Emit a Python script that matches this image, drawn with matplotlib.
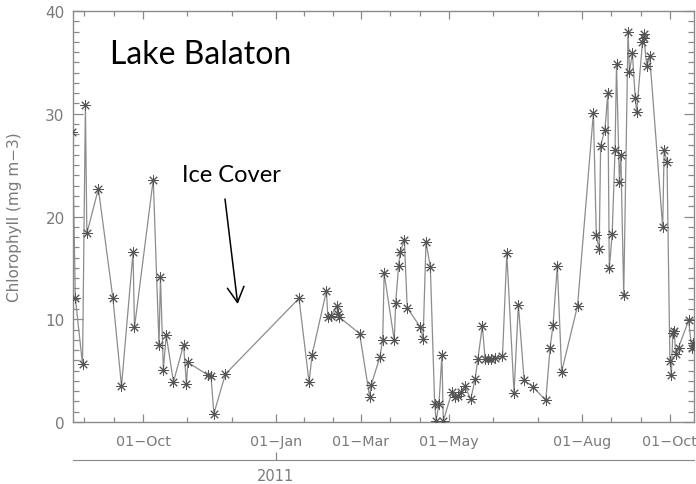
import matplotlib
matplotlib.use('Agg')
import matplotlib.pyplot as plt
import matplotlib.dates as mdates
import numpy as np

# ---- data ----
dates = ['2010-08-13', '2010-08-15', '2010-08-20', '2010-08-22', '2010-08-23', '2010-08-31',
         '2010-09-10', '2010-09-16', '2010-09-24', '2010-09-25', '2010-10-08', '2010-10-12',
         '2010-10-13', '2010-10-15', '2010-10-17', '2010-10-22', '2010-10-29', '2010-10-31',
         '2010-11-01', '2010-11-15', '2010-11-17', '2010-11-19', '2010-11-27',
         '2011-01-17', '2011-01-24', '2011-01-26', '2011-02-05', '2011-02-06', '2011-02-08',
         '2011-02-12', '2011-02-13', '2011-02-14', '2011-02-28', '2011-03-07', '2011-03-08',
         '2011-03-14', '2011-03-16', '2011-03-17', '2011-03-24', '2011-03-25', '2011-03-27',
         '2011-03-28', '2011-03-31', '2011-04-02', '2011-04-11', '2011-04-13', '2011-04-15',
         '2011-04-18', '2011-04-21', '2011-04-22', '2011-04-24', '2011-04-26', '2011-04-27',
         '2011-05-03', '2011-05-05', '2011-05-07', '2011-05-09', '2011-05-12', '2011-05-16',
         '2011-05-19', '2011-05-21', '2011-05-24', '2011-05-26', '2011-05-28', '2011-05-30',
         '2011-06-02', '2011-06-07', '2011-06-10', '2011-06-15', '2011-06-18', '2011-06-22',
         '2011-06-28', '2011-07-07', '2011-07-10', '2011-07-12', '2011-07-15', '2011-07-18',
         '2011-07-29', '2011-08-09', '2011-08-11', '2011-08-13', '2011-08-14', '2011-08-17',
         '2011-08-19', '2011-08-20', '2011-08-22', '2011-08-24', '2011-08-25', '2011-08-27',
         '2011-08-28', '2011-08-30', '2011-09-02', '2011-09-03', '2011-09-05', '2011-09-07',
         '2011-09-08', '2011-09-12', '2011-09-13', '2011-09-13', '2011-09-15', '2011-09-17',
         '2011-09-26', '2011-09-27', '2011-09-29', '2011-10-01', '2011-10-02', '2011-10-03',
         '2011-10-04', '2011-10-05', '2011-10-07', '2011-10-14', '2011-10-16', '2011-10-17']

chl = [28.2, 12.1, 5.6, 30.9, 18.35, 22.7,
       12.1, 3.5, 16.5, 9.2, 23.6, 7.5,
       14.1, 5.1, 8.45, 3.9, 7.5, 3.7,
       5.8, 4.56, 4.5, 0.8, 4.66,
       12.04, 3.85, 6.5, 12.75, 10.2, 10.3,
       11.3, 10.5, 10.2, 8.6, 2.4, 3.6,
       6.3, 7.96, 14.47, 7.96, 11.6, 15.2,
       16.5, 17.7, 11.1, 9.25, 8.1, 17.5,
       15.1, 1.8, 0.1, 1.8, 6.5, 0.1,
       2.95, 2.4, 2.55, 2.9, 3.5, 2.2,
       4.15, 6.15, 9.35, 6.1, 6.1, 6.15,
       6.2, 6.4, 16.4, 2.85, 11.4, 4.05,
       3.45, 2.1, 7.25, 9.4, 15.2, 4.9,
       11.3, 30.1, 18.2, 16.8, 26.9, 28.45,
       32.0, 14.95, 18.25, 26.5, 34.8, 23.4,
       26.0, 12.4, 38.0, 34.1, 35.9, 31.5,
       30.2, 37.0, 37.8, 37.4, 34.6, 35.6,
       18.95, 26.5, 25.3, 5.95, 4.6, 8.7,
       8.86, 6.6, 7.25, 9.9, 7.25, 7.7]

major_dates = ['2010-10-01', '2011-01-01', '2011-03-01', '2011-05-01', '2011-08-01', '2011-10-01']
major_labels = ['01\u2212Oct', '01\u2212Jan', '01\u2212Mar', '01\u2212May', '01\u2212Aug', '01\u2212Oct']
interval_edges = ['2010-08-01'] + major_dates + ['2011-12-01']
year_date = ['2011-01-01']
year_label = ['2011']
y_major = [0, 10, 20, 30, 40]

# ---- figure ----
W, H = 696, 485
fig = plt.figure(figsize=(W / 100, H / 100), dpi=100)
L, R, T, B = 73, 694, 12, 423
ax = fig.add_axes([L / W, (H - B) / H, (R - L) / W, (B - T) / H])

gray = '#8a8a8a'
tgray = '#7a7a7a'

x = mdates.datestr2num(dates)
ax.plot(x, chl, color='#8c8c8c', lw=0.9, marker=(8, 2, 0), ms=7.5,
        mec='#555555', mew=0.7, mfc='none', zorder=3)

oct1 = mdates.datestr2num('2010-10-01')

maj = mdates.datestr2num(major_dates)
edges = mdates.datestr2num(interval_edges)
minor = []
for a, b in zip(edges[:-1], edges[1:]):
    minor += [a + (b - a) / 3, a + 2 * (b - a) / 3]
ax.set_xticks(maj, labels=major_labels)
ax.set_xticks(minor, minor=True)
ax.set_yticks(y_major)
ax.set_yticks(np.arange(0, 41, 1), minor=True)

ax.set_xlim(oct1 - 48.6, oct1 + 381.7)
ax.set_ylim(0, 40)

for s in ax.spines.values():
    s.set_color(gray)
    s.set_linewidth(1.0)

ax.tick_params(which='both', direction='in', top=True, right=True,
               color=gray, labelcolor=tgray, labelsize=11, width=0.9)
ax.tick_params(axis='x', which='major', length=6, pad=9, labelsize=10.3)
ax.tick_params(axis='x', which='minor', length=3.5)
ax.tick_params(axis='y', which='major', length=7, pad=6)
ax.tick_params(axis='y', which='minor', length=4)

ax.set_ylabel('Chlorophyll (mg m\u22123)', fontsize=11, color=tgray)
ax.yaxis.set_label_coords(-0.082, 0.5)

sec = ax.secondary_xaxis(-(461 - B) / (B - T))
sec.set_xticks(mdates.datestr2num(year_date), labels=year_label)
sec.tick_params(direction='in', length=5.5, color=gray, labelcolor=tgray,
                labelsize=10.5, pad=6, width=0.9)
for s in sec.spines.values():
    s.set_color(gray)
ax.set_xlim(oct1 - 48.6, oct1 + 381.7)


def fx(px):
    return (px - L) / (R - L)


def fy(py):
    return (B - py) / (B - T)


ax.text(fx(201), fy(64), 'Lake Balaton', transform=ax.transAxes, ha='center',
        va='baseline', fontsize=23, family=['Lato', 'DejaVu Sans'], color='black')
ax.text(fx(231.5), fy(182), 'Ice Cover', transform=ax.transAxes, ha='center',
        va='baseline', fontsize=17, family=['Lato', 'DejaVu Sans'], color='black')
ax.annotate('', xy=(fx(237.7), fy(305)), xytext=(fx(225), fy(200)),
            xycoords='axes fraction', textcoords='axes fraction',
            arrowprops=dict(arrowstyle='->,head_length=0.55,head_width=0.3',
                            color='black', lw=1.1, mutation_scale=20,
                            shrinkA=0, shrinkB=0))

fig.savefig('out.png', dpi=100)
